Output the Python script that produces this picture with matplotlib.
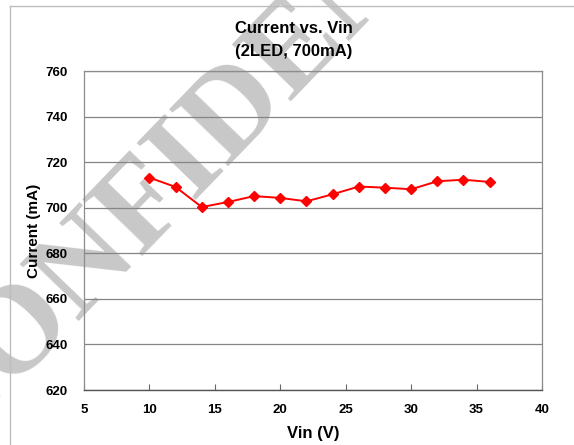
import matplotlib
matplotlib.use('Agg')
import matplotlib.pyplot as plt
from matplotlib.lines import Line2D

# Data
vin = [10, 12, 14, 16, 18, 20, 22, 24, 26, 28, 30, 32, 34, 36]
current = [713.2, 709.1, 700.3, 702.5, 705.1, 704.3, 702.8, 705.9, 709.3, 708.8, 708.1, 711.6, 712.3, 711.3]
x_ticks = [5, 10, 15, 20, 25, 30, 35, 40]
y_ticks = [620, 640, 660, 680, 700, 720, 740, 760]

plt.rcParams['font.family'] = ['Liberation Sans', 'DejaVu Sans']
plt.rcParams['font.weight'] = 'bold'

fig = plt.figure(figsize=(5.74, 4.45), dpi=100)

# Watermark, behind the chart
fig.text(-54 / 574, 1 - 452 / 445, 'CONFIDENTIAL', rotation=46, rotation_mode='anchor',
         ha='left', va='baseline', fontsize=90, fontweight='bold',
         family='Liberation Serif', color='#c8c8c8', zorder=-1)

ax = fig.add_axes([84 / 574, 1 - 390 / 445, (542 - 84) / 574, (390 - 71) / 445])
ax.set_facecolor('none')

# Plot the series
ax.plot(vin, current, color='#ff0000', lw=1.4, marker='D', markersize=5.5,
        markeredgecolor='#ff0000', markerfacecolor='#ff0000', zorder=3)

ax.set_xlim(5, 40)
ax.set_ylim(620, 760)
ax.set_xticks(x_ticks)
ax.set_yticks(y_ticks)
ax.yaxis.grid(True, color='#858585', lw=0.9)
ax.set_axisbelow(True)

for s in ['left', 'top', 'right']:
    ax.spines[s].set_color('#8c8c8c')
    ax.spines[s].set_linewidth(0.9)
ax.spines['bottom'].set_color('#555555')
ax.spines['bottom'].set_linewidth(1.0)

ax.tick_params(axis='x', direction='in', length=4, color='#666666', pad=10, labelsize=9.5)
ax.tick_params(axis='y', length=0, pad=12, labelsize=9.5)

ax.set_xlabel('Vin (V)', fontsize=12, fontweight='bold', labelpad=7)
ax.set_ylabel('Current (mA)', fontsize=11, fontweight='bold', labelpad=3)

fig.text(294 / 574, 1 - 40 / 445, 'Current vs. Vin\n(2LED, 700mA)', ha='center', va='center',
         fontsize=12, fontweight='bold', linespacing=1.7)

# Outer chart border
fig.add_artist(Line2D([10 / 574, 10 / 574], [0, 1 - 6 / 445], transform=fig.transFigure,
                      color='#bdbdbd', lw=1))
fig.add_artist(Line2D([10 / 574, 1], [1 - 6 / 445, 1 - 6 / 445], transform=fig.transFigure,
                      color='#bdbdbd', lw=1))

fig.savefig('out.png', dpi=100)
